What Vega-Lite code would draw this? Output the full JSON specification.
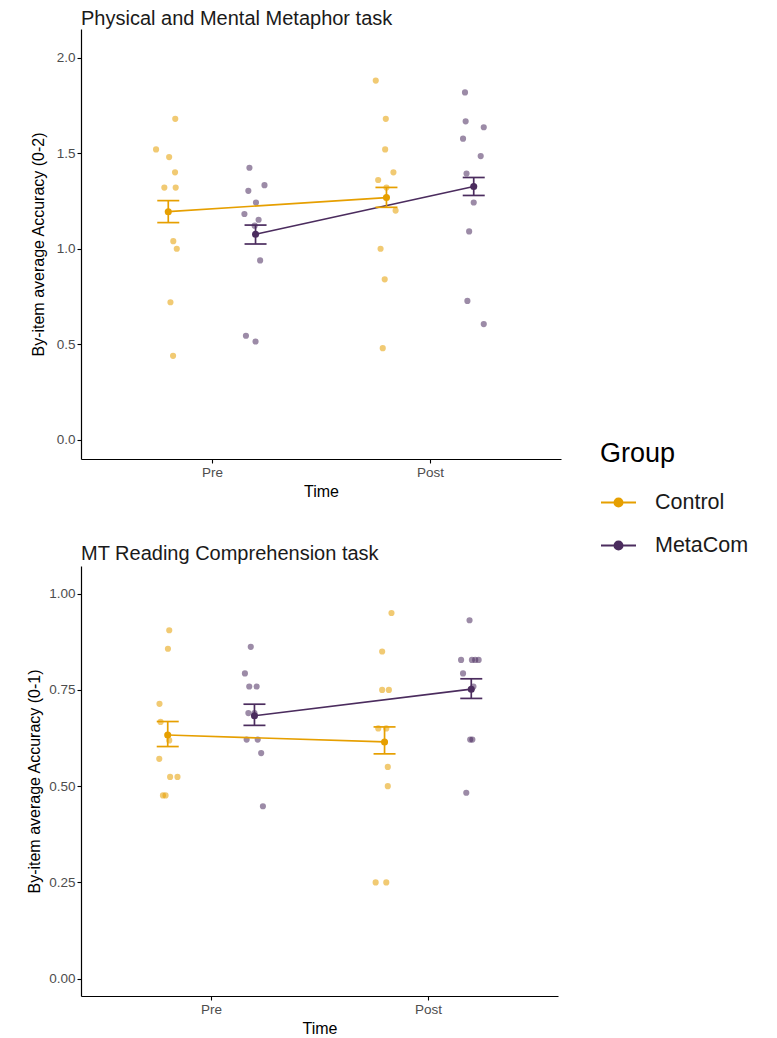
{
  "$schema": "https://vega.github.io/schema/vega-lite/v6.json",
  "padding": {"left": 26, "top": 9, "right": 5, "bottom": 2},
  "spacing": 44,
  "columns": 1,
  "align": "none",
  "config": {
    "font": "Liberation Sans",
    "view": {"stroke": null},
    "axis": {
      "grid": false,
      "domainColor": "#000000",
      "domainWidth": 1.2,
      "tickColor": "#000000",
      "tickSize": 4,
      "tickWidth": 1.1,
      "labelColor": "#4d4d4d",
      "labelFontSize": 13.5,
      "labelPadding": 2,
      "titleColor": "#000000",
      "titleFontSize": 16,
      "titleFontWeight": "normal"
    },
    "axisX": {"titlePadding": 5},
    "axisY": {"titlePadding": 6}
  },
  "datasets": {
    "pts": [
      {"task": "metaphor", "group": "Control", "time": "Pre", "acc": 1.68, "jit": 0.032},
      {"task": "metaphor", "group": "Control", "time": "Pre", "acc": 1.52, "jit": -0.056},
      {"task": "metaphor", "group": "Control", "time": "Pre", "acc": 1.48, "jit": 0.004},
      {"task": "metaphor", "group": "Control", "time": "Pre", "acc": 1.40, "jit": 0.031},
      {"task": "metaphor", "group": "Control", "time": "Pre", "acc": 1.32, "jit": -0.018},
      {"task": "metaphor", "group": "Control", "time": "Pre", "acc": 1.32, "jit": 0.034},
      {"task": "metaphor", "group": "Control", "time": "Pre", "acc": 1.04, "jit": 0.023},
      {"task": "metaphor", "group": "Control", "time": "Pre", "acc": 1.00, "jit": 0.039},
      {"task": "metaphor", "group": "Control", "time": "Pre", "acc": 0.72, "jit": 0.010},
      {"task": "metaphor", "group": "Control", "time": "Pre", "acc": 0.44, "jit": 0.022},
      {"task": "metaphor", "group": "MetaCom", "time": "Pre", "acc": 1.424, "jit": -0.028},
      {"task": "metaphor", "group": "MetaCom", "time": "Pre", "acc": 1.333, "jit": 0.041},
      {"task": "metaphor", "group": "MetaCom", "time": "Pre", "acc": 1.303, "jit": -0.033},
      {"task": "metaphor", "group": "MetaCom", "time": "Pre", "acc": 1.242, "jit": 0.002},
      {"task": "metaphor", "group": "MetaCom", "time": "Pre", "acc": 1.182, "jit": -0.051},
      {"task": "metaphor", "group": "MetaCom", "time": "Pre", "acc": 1.152, "jit": 0.014},
      {"task": "metaphor", "group": "MetaCom", "time": "Pre", "acc": 1.121, "jit": -0.004},
      {"task": "metaphor", "group": "MetaCom", "time": "Pre", "acc": 0.939, "jit": 0.021},
      {"task": "metaphor", "group": "MetaCom", "time": "Pre", "acc": 0.545, "jit": -0.044},
      {"task": "metaphor", "group": "MetaCom", "time": "Pre", "acc": 0.515, "jit": 0.0},
      {"task": "metaphor", "group": "Control", "time": "Post", "acc": 1.88, "jit": -0.049},
      {"task": "metaphor", "group": "Control", "time": "Post", "acc": 1.68, "jit": -0.003},
      {"task": "metaphor", "group": "Control", "time": "Post", "acc": 1.52, "jit": -0.006},
      {"task": "metaphor", "group": "Control", "time": "Post", "acc": 1.40, "jit": 0.032},
      {"task": "metaphor", "group": "Control", "time": "Post", "acc": 1.36, "jit": -0.038},
      {"task": "metaphor", "group": "Control", "time": "Post", "acc": 1.32, "jit": 0.0},
      {"task": "metaphor", "group": "Control", "time": "Post", "acc": 1.20, "jit": 0.042},
      {"task": "metaphor", "group": "Control", "time": "Post", "acc": 1.00, "jit": -0.027},
      {"task": "metaphor", "group": "Control", "time": "Post", "acc": 0.84, "jit": -0.008},
      {"task": "metaphor", "group": "Control", "time": "Post", "acc": 0.48, "jit": -0.017},
      {"task": "metaphor", "group": "MetaCom", "time": "Post", "acc": 1.818, "jit": -0.040},
      {"task": "metaphor", "group": "MetaCom", "time": "Post", "acc": 1.667, "jit": -0.037},
      {"task": "metaphor", "group": "MetaCom", "time": "Post", "acc": 1.636, "jit": 0.046},
      {"task": "metaphor", "group": "MetaCom", "time": "Post", "acc": 1.576, "jit": -0.049},
      {"task": "metaphor", "group": "MetaCom", "time": "Post", "acc": 1.485, "jit": 0.032},
      {"task": "metaphor", "group": "MetaCom", "time": "Post", "acc": 1.394, "jit": -0.033},
      {"task": "metaphor", "group": "MetaCom", "time": "Post", "acc": 1.242, "jit": 0.0},
      {"task": "metaphor", "group": "MetaCom", "time": "Post", "acc": 1.091, "jit": -0.021},
      {"task": "metaphor", "group": "MetaCom", "time": "Post", "acc": 0.727, "jit": -0.029},
      {"task": "metaphor", "group": "MetaCom", "time": "Post", "acc": 0.606, "jit": 0.046},
      {"task": "reading", "group": "Control", "time": "Pre", "acc": 0.905, "jit": 0.007},
      {"task": "reading", "group": "Control", "time": "Pre", "acc": 0.857, "jit": 0.001},
      {"task": "reading", "group": "Control", "time": "Pre", "acc": 0.714, "jit": -0.038},
      {"task": "reading", "group": "Control", "time": "Pre", "acc": 0.667, "jit": -0.033},
      {"task": "reading", "group": "Control", "time": "Pre", "acc": 0.619, "jit": 0.007},
      {"task": "reading", "group": "Control", "time": "Pre", "acc": 0.571, "jit": -0.039},
      {"task": "reading", "group": "Control", "time": "Pre", "acc": 0.524, "jit": 0.011},
      {"task": "reading", "group": "Control", "time": "Pre", "acc": 0.524, "jit": 0.045},
      {"task": "reading", "group": "Control", "time": "Pre", "acc": 0.476, "jit": -0.022},
      {"task": "reading", "group": "Control", "time": "Pre", "acc": 0.476, "jit": -0.010},
      {"task": "reading", "group": "MetaCom", "time": "Pre", "acc": 0.862, "jit": -0.017},
      {"task": "reading", "group": "MetaCom", "time": "Pre", "acc": 0.793, "jit": -0.044},
      {"task": "reading", "group": "MetaCom", "time": "Pre", "acc": 0.759, "jit": -0.024},
      {"task": "reading", "group": "MetaCom", "time": "Pre", "acc": 0.759, "jit": 0.010},
      {"task": "reading", "group": "MetaCom", "time": "Pre", "acc": 0.690, "jit": -0.028},
      {"task": "reading", "group": "MetaCom", "time": "Pre", "acc": 0.690, "jit": 0.0},
      {"task": "reading", "group": "MetaCom", "time": "Pre", "acc": 0.621, "jit": -0.036},
      {"task": "reading", "group": "MetaCom", "time": "Pre", "acc": 0.621, "jit": 0.015},
      {"task": "reading", "group": "MetaCom", "time": "Pre", "acc": 0.586, "jit": 0.031},
      {"task": "reading", "group": "MetaCom", "time": "Pre", "acc": 0.448, "jit": 0.039},
      {"task": "reading", "group": "Control", "time": "Post", "acc": 0.95, "jit": 0.032},
      {"task": "reading", "group": "Control", "time": "Post", "acc": 0.85, "jit": -0.011},
      {"task": "reading", "group": "Control", "time": "Post", "acc": 0.75, "jit": -0.011},
      {"task": "reading", "group": "Control", "time": "Post", "acc": 0.75, "jit": 0.020},
      {"task": "reading", "group": "Control", "time": "Post", "acc": 0.65, "jit": -0.029},
      {"task": "reading", "group": "Control", "time": "Post", "acc": 0.65, "jit": 0.008},
      {"task": "reading", "group": "Control", "time": "Post", "acc": 0.55, "jit": 0.015},
      {"task": "reading", "group": "Control", "time": "Post", "acc": 0.50, "jit": 0.015},
      {"task": "reading", "group": "Control", "time": "Post", "acc": 0.25, "jit": -0.041},
      {"task": "reading", "group": "Control", "time": "Post", "acc": 0.25, "jit": 0.008},
      {"task": "reading", "group": "MetaCom", "time": "Post", "acc": 0.931, "jit": -0.008},
      {"task": "reading", "group": "MetaCom", "time": "Post", "acc": 0.828, "jit": -0.047},
      {"task": "reading", "group": "MetaCom", "time": "Post", "acc": 0.828, "jit": 0.003},
      {"task": "reading", "group": "MetaCom", "time": "Post", "acc": 0.828, "jit": 0.018},
      {"task": "reading", "group": "MetaCom", "time": "Post", "acc": 0.828, "jit": 0.034},
      {"task": "reading", "group": "MetaCom", "time": "Post", "acc": 0.793, "jit": -0.038},
      {"task": "reading", "group": "MetaCom", "time": "Post", "acc": 0.759, "jit": 0.010},
      {"task": "reading", "group": "MetaCom", "time": "Post", "acc": 0.621, "jit": -0.005},
      {"task": "reading", "group": "MetaCom", "time": "Post", "acc": 0.621, "jit": 0.005},
      {"task": "reading", "group": "MetaCom", "time": "Post", "acc": 0.483, "jit": -0.023}
    ],
    "sum": [
      {"task": "metaphor", "group": "Control", "time": "Pre", "mean": 1.194, "lo": 1.137, "hi": 1.252},
      {"task": "metaphor", "group": "MetaCom", "time": "Pre", "mean": 1.076, "lo": 1.025, "hi": 1.124},
      {"task": "metaphor", "group": "Control", "time": "Post", "mean": 1.268, "lo": 1.217, "hi": 1.321},
      {"task": "metaphor", "group": "MetaCom", "time": "Post", "mean": 1.326, "lo": 1.279, "hi": 1.373},
      {"task": "reading", "group": "Control", "time": "Pre", "mean": 0.633, "lo": 0.603, "hi": 0.668},
      {"task": "reading", "group": "MetaCom", "time": "Pre", "mean": 0.683, "lo": 0.658, "hi": 0.713},
      {"task": "reading", "group": "Control", "time": "Post", "mean": 0.615, "lo": 0.584, "hi": 0.654},
      {"task": "reading", "group": "MetaCom", "time": "Post", "mean": 0.752, "lo": 0.728, "hi": 0.779}
    ]
  },
  "concat": [
    {
      "width": 480,
      "height": 430,
      "title": {"text": "Physical and Mental Metaphor task", "anchor": "start", "frame": "group", "fontSize": 20, "fontWeight": "normal", "color": "#1a1a1a", "offset": 0},
      "layer": [
        {
          "data": {"name": "pts"},
          "transform": [
            {"filter": "datum.task === 'metaphor'"},
            {"calculate": "(datum.time === 'Pre' ? 1 : 2) + (datum.group === 'Control' ? -0.2 : 0.2) + datum.jit", "as": "xpos"}
          ],
          "mark": {"type": "circle", "size": 38, "opacity": 0.55},
          "encoding": {
            "x": {"field": "xpos", "type": "quantitative", "scale": {"domain": [0.4, 2.6], "nice": false, "zero": false}, "axis": {"values": [1, 2], "labelExpr": "datum.value === 1 ? 'Pre' : 'Post'", "title": "Time"}},
            "y": {"field": "acc", "type": "quantitative", "scale": {"domain": [-0.1, 2.15], "nice": false, "zero": false}, "axis": {"values": [0, 0.5, 1, 1.5, 2], "format": ".1f", "title": "By-item average Accuracy (0-2)", "titlePadding": 10}},
            "color": {
              "field": "group", "type": "nominal",
              "scale": {"domain": ["Control", "MetaCom"], "range": ["#E69F00", "#4B2C5E"]},
              "legend": {
                "title": "Group",
                "orient": "none",
                "legendX": 519,
                "legendY": 412,
                "titleFontSize": 27,
                "titleFontWeight": "normal",
                "titleColor": "#000000",
                "titlePadding": 16,
                "labelFontSize": 21.5,
                "labelColor": "#1a1a1a",
                "labelOffset": 18,
                "rowPadding": 14,
                "symbolType": "M-1,0H1M0.23,0A0.23,0.23,0,1,1,-0.23,0A0.23,0.23,0,1,1,0.23,0Z",
                "symbolSize": 1225,
                "symbolStrokeWidth": 2,
                "symbolOpacity": 1,
                "encode": {"symbols": {"update": {"fill": {"scale": "color", "field": "value"}, "stroke": {"scale": "color", "field": "value"}, "opacity": {"value": 1}}}}
              }
            }
          }
        },
        {
          "data": {"name": "sum"},
          "transform": [
            {"filter": "datum.task === 'metaphor'"},
            {"calculate": "(datum.time === 'Pre' ? 1 : 2) + (datum.group === 'Control' ? -0.2 : 0.2)", "as": "xpos"}
          ],
          "layer": [
            {"mark": {"type": "line", "strokeWidth": 1.7}, "encoding": {"x": {"field": "xpos", "type": "quantitative"}, "y": {"field": "mean", "type": "quantitative"}, "color": {"field": "group", "type": "nominal"}}},
            {"mark": {"type": "rule", "strokeWidth": 1.7}, "encoding": {"x": {"field": "xpos", "type": "quantitative"}, "y": {"field": "lo", "type": "quantitative"}, "y2": {"field": "hi"}, "color": {"field": "group", "type": "nominal"}}},
            {"mark": {"type": "tick", "orient": "horizontal", "size": 22, "thickness": 1.7, "opacity": 1}, "encoding": {"x": {"field": "xpos", "type": "quantitative"}, "y": {"field": "lo", "type": "quantitative"}, "color": {"field": "group", "type": "nominal"}}},
            {"mark": {"type": "tick", "orient": "horizontal", "size": 22, "thickness": 1.7, "opacity": 1}, "encoding": {"x": {"field": "xpos", "type": "quantitative"}, "y": {"field": "hi", "type": "quantitative"}, "color": {"field": "group", "type": "nominal"}}},
            {"mark": {"type": "circle", "size": 50, "opacity": 1}, "encoding": {"x": {"field": "xpos", "type": "quantitative"}, "y": {"field": "mean", "type": "quantitative"}, "color": {"field": "group", "type": "nominal"}}}
          ]
        }
      ]
    },
    {
      "width": 477,
      "height": 430,
      "title": {"text": "MT Reading Comprehension task", "anchor": "start", "frame": "group", "fontSize": 20, "fontWeight": "normal", "color": "#1a1a1a", "offset": 2},
      "layer": [
        {
          "data": {"name": "pts"},
          "transform": [
            {"filter": "datum.task === 'reading'"},
            {"calculate": "(datum.time === 'Pre' ? 1 : 2) + (datum.group === 'Control' ? -0.2 : 0.2) + datum.jit", "as": "xpos"}
          ],
          "mark": {"type": "circle", "size": 38, "opacity": 0.55},
          "encoding": {
            "x": {"field": "xpos", "type": "quantitative", "scale": {"domain": [0.4, 2.6], "nice": false, "zero": false}, "axis": {"values": [1, 2], "labelExpr": "datum.value === 1 ? 'Pre' : 'Post'", "title": "Time"}},
            "y": {"field": "acc", "type": "quantitative", "scale": {"domain": [-0.045, 1.072], "nice": false, "zero": false}, "axis": {"values": [0, 0.25, 0.5, 0.75, 1], "format": ".2f", "title": "By-item average Accuracy (0-1)", "titlePadding": 6}},
            "color": {"field": "group", "type": "nominal"}
          }
        },
        {
          "data": {"name": "sum"},
          "transform": [
            {"filter": "datum.task === 'reading'"},
            {"calculate": "(datum.time === 'Pre' ? 1 : 2) + (datum.group === 'Control' ? -0.2 : 0.2)", "as": "xpos"}
          ],
          "layer": [
            {"mark": {"type": "line", "strokeWidth": 1.7}, "encoding": {"x": {"field": "xpos", "type": "quantitative"}, "y": {"field": "mean", "type": "quantitative"}, "color": {"field": "group", "type": "nominal"}}},
            {"mark": {"type": "rule", "strokeWidth": 1.7}, "encoding": {"x": {"field": "xpos", "type": "quantitative"}, "y": {"field": "lo", "type": "quantitative"}, "y2": {"field": "hi"}, "color": {"field": "group", "type": "nominal"}}},
            {"mark": {"type": "tick", "orient": "horizontal", "size": 22, "thickness": 1.7, "opacity": 1}, "encoding": {"x": {"field": "xpos", "type": "quantitative"}, "y": {"field": "lo", "type": "quantitative"}, "color": {"field": "group", "type": "nominal"}}},
            {"mark": {"type": "tick", "orient": "horizontal", "size": 22, "thickness": 1.7, "opacity": 1}, "encoding": {"x": {"field": "xpos", "type": "quantitative"}, "y": {"field": "hi", "type": "quantitative"}, "color": {"field": "group", "type": "nominal"}}},
            {"mark": {"type": "circle", "size": 50, "opacity": 1}, "encoding": {"x": {"field": "xpos", "type": "quantitative"}, "y": {"field": "mean", "type": "quantitative"}, "color": {"field": "group", "type": "nominal"}}}
          ]
        }
      ]
    }
  ]
}
